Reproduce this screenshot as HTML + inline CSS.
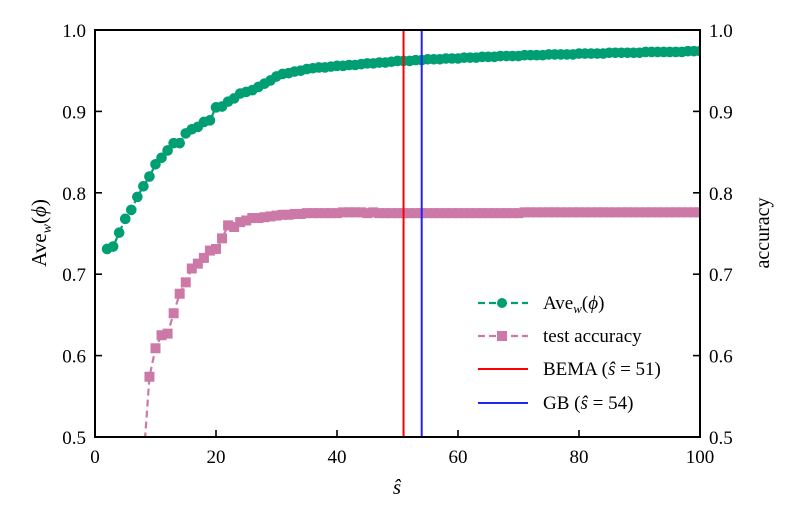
<!DOCTYPE html>
<html><head><meta charset="utf-8"><style>
body{margin:0;background:#fff}
svg{display:block;font-family:"Liberation Serif",serif}
</style></head><body>
<svg id="chart" width="794" height="523" viewBox="0 0 794 523" xmlns="http://www.w3.org/2000/svg">
<defs><clipPath id="clip"><rect x="95" y="30" width="605" height="407"/></clipPath></defs>
<g id="marks" clip-path="url(#clip)"></g>
<g id="axes"></g>
</svg>
<script>
const aveStart = 2;
const aveValues = [.731,.734,.751,.768,.779,.795,.808,.820,.835,.843,.852,.861,.861,.873,.878,.881,.887,.889,.905,.906,.912,.916,.922,.924,.926,.930,.934,.938,.943,.946,.947,.949,.950,.952,.953,.954,.954,.955,
.956,.956,.957,.957,.958,.959,.959,.960,.960,.961,.962,.962,.962,.963,.963,.964,.964,.964,.965,.965,.965,.966,.966,.966,.967,.967,.967,.968,.968,.968,.968,.969,.969,.969,.969,.970,.970,.970,.970,.970,.971,.971,.971,.971,.971,.972,.972,.972,.972,.972,.972,.973,.973,.973,.973,.973,.973,.973,.974,.974,.974];
const accStart = 8;
const accValues = [.47,.574,.609,.625,.627,.652,.676,.690,.707,.713,.720,.729,.731,.744,.760,.758,.764,.766,.769,.769,.770,.771,.772,.773,.773,.774,.774,.775,.775,.775,.775,.775,.775,.776,.776,.776,.776,.775,.776,.775,.775,.775,.775,.775,.775,.775,.775,.775,.775,.775,.775,.775,.775,.775,.775,.775,.775,.775,.775,.775,.775,.775,.775,.776,.776,.776,.776,.776,.776,.776,.776,.776,.776,.776,.776,.776,.776,.776,.776,.776,.776,.776,.776,.776,.776,.776,.776,.776,.776,.776,.776,.776,.776];
const bemaS = 51;
const gbS = 54;
const xTicks = [0,20,40,60,80,100];
const yTicks = [0.5,0.6,0.7,0.8,0.9,1.0];

const X0=95,X1=700,Y0=437,Y1=30;
const xs = v => X0 + (v-0)/(100-0)*(X1-X0);
const ys = v => Y0 - (v-0.5)/(1.0-0.5)*(Y0-Y1);
const NS="http://www.w3.org/2000/svg";
function mk(tag, attrs, parent){const e=document.createElementNS(NS,tag);for(const k in attrs)e.setAttribute(k,attrs[k]);parent.appendChild(e);return e;}
const marks=document.getElementById('marks'), axes=document.getElementById('axes');
const G='#009e73', P='#cc79a7';

let pts = accValues.map((v,i)=>xs(accStart+i)+','+ys(v)).join(' ');
let l2 = mk('polyline',{points:pts,fill:'none',stroke:P,'stroke-width':2.2,'stroke-dasharray':'7,4'},marks);


accValues.forEach((v,i)=>{
  const r=mk('rect',{x:xs(accStart+i)-5,y:ys(v)-5,width:10,height:10,fill:P},marks);
  
  
});
pts = aveValues.map((v,i)=>xs(aveStart+i)+','+ys(v)).join(' ');
let l1 = mk('polyline',{points:pts,fill:'none',stroke:G,'stroke-width':2.2,'stroke-dasharray':'7,4'},marks);


aveValues.forEach((v,i)=>{
  const c=mk('circle',{cx:xs(aveStart+i),cy:ys(v),r:5.3,fill:G},marks);
  
  
});
const vb=mk('line',{x1:xs(bemaS),x2:xs(bemaS),y1:Y1,y2:Y0,stroke:'#ff0000','stroke-width':2},marks);


const vg=mk('line',{x1:xs(gbS),x2:xs(gbS),y1:Y1,y2:Y0,stroke:'#2222ff','stroke-width':2},marks);



const frame=mk('rect',{x:X0,y:Y1,width:X1-X0,height:Y0-Y1,fill:'none',stroke:'#000','stroke-width':2},axes);


xTicks.forEach(t=>{
  mk('line',{x1:xs(t),x2:xs(t),y1:Y0,y2:Y0-7,stroke:'#000','stroke-width':1.6},axes);
  const tx=mk('text',{x:xs(t),y:Y0+26,'text-anchor':'middle','font-size':19},axes);
  tx.textContent=t;
  
  
});
yTicks.forEach(t=>{
  mk('line',{x1:X0,x2:X0+7,y1:ys(t),y2:ys(t),stroke:'#000','stroke-width':1.6},axes);
  mk('line',{x1:X1,x2:X1-7,y1:ys(t),y2:ys(t),stroke:'#000','stroke-width':1.6},axes);
  const a=mk('text',{x:X0-9,y:ys(t)+7,'text-anchor':'end','font-size':19},axes);
  a.textContent=t.toFixed(1);
  
  
  const b=mk('text',{x:X1+9,y:ys(t)+7,'text-anchor':'start','font-size':19},axes);
  b.textContent=t.toFixed(1);
  
  
});
</script>
<svg style="position:absolute;left:0;top:0" width="794" height="523" xmlns="http://www.w3.org/2000/svg" font-family="Liberation Serif, serif">
<text x="397" y="494" text-anchor="middle" font-size="21" font-style="italic">ŝ</text>
<text transform="translate(46,233) rotate(-90)" text-anchor="middle" font-size="21">Ave<tspan font-style="italic" font-size="14" dy="5">w</tspan><tspan dy="-5">(</tspan><tspan font-style="italic">ϕ</tspan>)</text>
<text transform="translate(769,233) rotate(-90)" text-anchor="middle" font-size="20">accuracy</text>
<g font-size="19">
<g>
<line x1="478" x2="528" y1="303" y2="303" stroke="#009e73" stroke-width="2.2" stroke-dasharray="7,4"/><circle cx="502" cy="303" r="5" fill="#009e73"/>
<text x="543" y="309">Ave<tspan font-style="italic" font-size="13" dy="4">w</tspan><tspan dy="-4">(</tspan><tspan font-style="italic">ϕ</tspan>)</text></g>
<g>
<line x1="478" x2="528" y1="336" y2="336" stroke="#cc79a7" stroke-width="2.2" stroke-dasharray="7,4"/><rect x="497" y="331" width="10" height="10" fill="#cc79a7"/>
<text x="543" y="342">test accuracy</text></g>
<g>
<line x1="478" x2="528" y1="369" y2="369" stroke="#ff0000" stroke-width="2"/>
<text x="543" y="375">BEMA (<tspan font-style="italic">ŝ</tspan> = 51)</text></g>
<g>
<line x1="478" x2="528" y1="403" y2="403" stroke="#2222ff" stroke-width="2"/>
<text x="543" y="409">GB (<tspan font-style="italic">ŝ</tspan> = 54)</text></g>
</g>
</svg>
</body></html>
